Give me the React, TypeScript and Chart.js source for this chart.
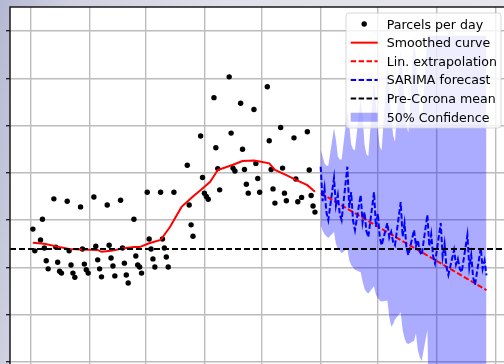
import React, { useEffect, useRef } from "react";
import { Chart, registerables } from "chart.js";

Chart.register(...registerables);

// x values: days since 1 Jan 2020 (weekdays only); y values: parcels per day (axis units)
const obsDays = [
  1, 2,
  5, 6, 7, 8, 9,
  12, 13, 14, 15, 16,
  19, 20, 21, 22, 23,
  26, 27, 28, 29, 30,
  33, 34, 35, 36, 37,
  40, 41, 42, 43, 44,
  47, 48, 49, 50, 51,
  54, 55, 56, 57, 58,
  61, 62, 63, 64, 65,
  68, 69, 70, 71, 72,
  75,
  82, 83, 84, 85,
  89, 90, 91, 92, 93,
  96, 97, 98, 99,
  104, 105, 106, 107,
  110, 111, 112, 113, 114,
  117, 118, 119, 120,
  124, 125, 126, 127, 128,
  131, 132, 133, 134,
  138, 139, 140, 142,
  145, 146, 147, 148, 149,
];
const parcels = [
  2.81, 2.35,
  2.58, 3.02, 2.41, 2.14, 1.97,
  3.45, 2.43, 2.11, 1.92, 1.88,
  3.40, 2.35, 2.05, 1.88, 1.79,
  3.28, 2.39, 2.07, 1.95, 1.88,
  3.49, 2.45, 2.16, 1.97, 1.80,
  3.32, 2.47, 2.20, 2.03, 1.82,
  3.42, 2.41, 2.09, 1.84, 1.67,
  3.02, 2.24, 2.05, 2.01, 1.88,
  3.59, 2.60, 2.39, 2.18, 2.01,
  3.59, 2.60, 2.41, 2.22, 2.01,
  3.59,
  4.16, 3.32, 2.90, 2.66,
  4.78, 3.90, 3.57, 3.50, 3.44,
  5.59, 4.53, 4.09, 3.64,
  6.03, 4.84, 4.10, 4.04,
  5.47, 4.50, 4.07, 3.76, 3.57,
  5.34, 4.20, 3.88, 3.59,
  5.82, 4.68, 4.07, 3.66, 3.36,
  4.96, 4.10, 3.57, 3.41,
  4.74, 3.87, 3.39, 3.48,
  4.87, 4.06, 3.52, 3.30, 3.17,
];

const smoothDays = [1, 7, 14, 20, 27, 35, 37, 42, 48, 54, 57, 62, 68, 73, 79, 85, 90, 94, 98, 103, 106, 111, 117, 120, 125, 128, 134, 139, 145, 149];
const smoothVals = [2.52, 2.50, 2.44, 2.39, 2.38, 2.37, 2.33, 2.35, 2.40, 2.43, 2.43, 2.51, 2.58, 2.86, 3.28, 3.50, 3.67, 3.81, 4.06, 4.13, 4.17, 4.25, 4.26, 4.24, 4.20, 4.06, 3.95, 3.85, 3.74, 3.60];

const linDays = [152, 239];
const linVals = [3.57, 1.52];

const fcDays = [
  152, 153, 154, 155, 156,
  159, 160, 161, 162, 163,
  166, 167, 168, 169, 170,
  173, 174, 175, 176, 177,
  180, 181, 182, 183, 184,
  187, 188, 189, 190, 191,
  194, 195, 196, 197, 198,
  201, 202, 203, 204, 205,
  208, 209, 210, 211, 212,
  215, 216, 217, 218, 219,
  222, 223, 224, 225, 226,
  229, 230, 231, 232, 233,
  236, 237, 238, 239,
];
const sarima = [
  4.13, 3.40, 3.68, 3.17, 3.00,
  3.89, 3.31, 3.53, 3.13, 3.00,
  4.13, 3.26, 3.59, 2.99, 2.79,
  3.53, 2.95, 3.17, 2.77, 2.64,
  3.59, 2.86, 3.14, 2.64, 2.47,
  2.94, 2.63, 2.75, 2.54, 2.47,
  3.38, 2.65, 2.93, 2.43, 2.26,
  2.79, 2.45, 2.58, 2.34, 2.26,
  3.11, 2.45, 2.70, 2.24, 2.09,
  2.94, 2.23, 2.50, 2.01, 1.84,
  2.37, 2.06, 2.18, 1.97, 1.90,
  2.68, 2.00, 2.26, 1.79, 1.63,
  2.41, 1.97, 2.14, 1.83,
];
const confUpper = [
  4.50, 4.35, 4.20, 4.15, 4.15,
  4.95, 4.70, 4.35, 4.28, 4.28,
  5.30, 5.00, 4.60, 4.50, 4.48,
  5.60, 5.20, 4.60, 4.40, 4.35,
  6.00, 5.50, 4.90, 4.55, 4.48,
  6.30, 5.80, 5.20, 4.80, 4.65,
  6.60, 6.10, 5.50, 5.00, 4.85,
  6.90, 6.40, 5.80, 5.20, 5.05,
  6.90, 6.90, 6.90, 6.90, 6.90,
  6.90, 6.90, 6.90, 6.90, 6.90,
  6.90, 6.90, 6.90, 6.90, 6.90,
  6.90, 6.90, 6.90, 6.90, 6.90,
  6.90, 6.90, 6.90, 6.90,
];
const confLower = [
  2.90, 2.78, 2.70, 2.66, 2.62,
  2.75, 2.50, 2.40, 2.35, 2.30,
  2.40, 2.15, 2.05, 2.00, 1.95,
  1.90, 1.70, 1.55, 1.48, 1.45,
  1.60, 1.42, 1.35, 1.30, 1.28,
  1.30, 0.95, 0.75, 0.80, 0.90,
  1.05, 0.68, 0.50, 0.40, 0.38,
  0.45, 0.60, 0.25, 0.10, 0.02,
  0.68, -1.5, -1.5, -1.5, -1.5,
  -1.5, -1.5, -1.5, -1.5, -1.5,
  -1.5, -1.5, -1.5, -1.5, -1.5,
  -1.5, -1.5, -1.5, -1.5, -1.5,
  -1.5, -1.5, -1.5, -1.5,
];

const preCoronaMean = 2.39;

// grid positions: first day of each month Jan..Sep 2020, and y grid values
const monthStarts = [0, 31, 60, 91, 121, 152, 182, 213, 244];
const yGrid = [0, 1, 2, 3, 4, 5, 6, 7];

const X_MIN = -11.02;
const X_MAX = 249.25;
const Y_MIN = -0.381;
const Y_MAX = 7.507;

const legendItems = [
  { label: "Parcels per day", kind: "dot", color: "#000000" },
  { label: "Smoothed curve", kind: "line", color: "#ff0000" },
  { label: "Lin. extrapolation", kind: "dash", color: "#ff0000" },
  { label: "SARIMA forecast", kind: "dash", color: "#0000ff" },
  { label: "Pre-Corona mean", kind: "dash", color: "#000000" },
  { label: "50% Confidence", kind: "patch", color: "rgba(0,0,255,0.33)" },
];

const DASH = [5.5, 2.4];
const BAND = "rgba(0,0,255,0.33)";

const pts = (xs: number[], ys: number[]) => xs.map((x, i) => ({ x, y: ys[i] }));

const bgPlugin = {
  id: "plotBg",
  beforeDraw(chart: any) {
    const { ctx, chartArea: a } = chart;
    ctx.save();
    ctx.fillStyle = "#ffffff";
    ctx.fillRect(a.left, a.top, a.right - a.left, a.bottom - a.top);
    ctx.restore();
  },
};

const spinePlugin = {
  id: "spines",
  afterDatasetsDraw(chart: any) {
    const { ctx, chartArea: a } = chart;
    ctx.save();
    ctx.strokeStyle = "#1a1a1a";
    ctx.lineWidth = 1.5;
    ctx.beginPath();
    ctx.moveTo(a.left, a.bottom);
    ctx.lineTo(a.left, a.top);
    ctx.lineTo(a.right, a.top);
    ctx.stroke();
    ctx.restore();
  },
};

const legendPlugin = {
  id: "boxLegend",
  afterDraw(chart: any) {
    const { ctx, chartArea: a } = chart;
    const w = 155;
    const h = 115;
    const x0 = a.right - 5 - w;
    const y0 = a.top + 6;
    const r = 3;
    ctx.save();
    ctx.beginPath();
    ctx.moveTo(x0 + r, y0);
    ctx.lineTo(x0 + w - r, y0);
    ctx.arcTo(x0 + w, y0, x0 + w, y0 + r, r);
    ctx.lineTo(x0 + w, y0 + h - r);
    ctx.arcTo(x0 + w, y0 + h, x0 + w - r, y0 + h, r);
    ctx.lineTo(x0 + r, y0 + h);
    ctx.arcTo(x0, y0 + h, x0, y0 + h - r, r);
    ctx.lineTo(x0, y0 + r);
    ctx.arcTo(x0, y0, x0 + r, y0, r);
    ctx.closePath();
    ctx.fillStyle = "rgba(255,255,255,0.8)";
    ctx.fill();
    ctx.strokeStyle = "rgba(204,204,204,0.8)";
    ctx.lineWidth = 1;
    ctx.stroke();

    const hx1 = x0 + 4.7;
    const hx2 = x0 + 31.7;
    ctx.font = "12.6px 'DejaVu Sans'";
    ctx.textAlign = "left";
    ctx.textBaseline = "alphabetic";
    legendItems.forEach((it, i) => {
      const cy = y0 + 11 + i * 18.65;
      ctx.save();
      if (it.kind === "dot") {
        ctx.fillStyle = it.color;
        ctx.beginPath();
        ctx.arc((hx1 + hx2) / 2, cy, 2.7, 0, Math.PI * 2);
        ctx.fill();
      } else if (it.kind === "line" || it.kind === "dash") {
        ctx.strokeStyle = it.color;
        ctx.lineWidth = 2;
        ctx.setLineDash(it.kind === "dash" ? DASH : []);
        ctx.beginPath();
        ctx.moveTo(hx1, cy);
        ctx.lineTo(hx2, cy);
        ctx.stroke();
      } else {
        ctx.fillStyle = it.color;
        ctx.fillRect(hx1, cy - 4.5, hx2 - hx1, 9);
      }
      ctx.restore();
      ctx.fillStyle = "#000000";
      ctx.fillText(it.label, x0 + 40.7, cy + 4.5);
    });
    ctx.restore();
  },
};

export default function App() {
  const ref = useRef<HTMLCanvasElement | null>(null);

  useEffect(() => {
    if (!ref.current) return;
    const chart = new Chart(ref.current, {
      type: "line",
      data: {
        datasets: [
          {
            label: "Pre-Corona mean",
            data: [
              { x: X_MIN, y: preCoronaMean },
              { x: X_MAX, y: preCoronaMean },
            ],
            borderColor: "#000000",
            borderWidth: 2,
            borderDash: [6, 3],
            pointRadius: 0,
            fill: false,
            order: 0,
          },
          {
            label: "SARIMA forecast",
            data: pts(fcDays, sarima),
            borderColor: "#0000ff",
            borderWidth: 2,
            borderDash: DASH,
            pointRadius: 0,
            fill: false,
            order: 1,
          },
          {
            label: "Lin. extrapolation",
            data: pts(linDays, linVals),
            borderColor: "#ff0000",
            borderWidth: 2,
            borderDash: DASH,
            pointRadius: 0,
            fill: false,
            order: 2,
          },
          {
            label: "Smoothed curve",
            data: pts(smoothDays, smoothVals),
            borderColor: "#ff0000",
            borderWidth: 2,
            pointRadius: 0,
            fill: false,
            order: 3,
          },
          {
            label: "Parcels per day",
            data: pts(obsDays, parcels),
            showLine: false,
            pointRadius: 2.7,
            pointBackgroundColor: "#000000",
            pointBorderWidth: 0,
            borderColor: "#000000",
            fill: false,
            order: 4,
          },
          {
            label: "50% Confidence",
            data: pts(fcDays, confUpper),
            borderWidth: 0,
            borderColor: "rgba(0,0,0,0)",
            backgroundColor: BAND,
            pointRadius: 0,
            fill: "+1",
            order: 5,
          },
          {
            label: "lower",
            data: pts(fcDays, confLower),
            borderWidth: 0,
            borderColor: "rgba(0,0,0,0)",
            pointRadius: 0,
            fill: false,
            order: 6,
          },
        ],
      },
      options: {
        animation: false,
        responsive: false,
        maintainAspectRatio: false,
        events: [],
        layout: { autoPadding: false, padding: { left: 0, top: 7, right: 6, bottom: 0 } },
        plugins: {
          legend: { display: false },
          tooltip: { enabled: false },
          filler: { propagate: false },
        },
        scales: {
          x: {
            type: "linear",
            min: X_MIN,
            max: X_MAX,
            afterBuildTicks: (s: any) => {
              s.ticks = monthStarts.map((v) => ({ value: v }));
            },
            afterFit: (s: any) => {
              s.height = 0;
            },
            ticks: { display: false },
            border: { display: false },
            grid: { color: "#bcbcbc", lineWidth: 1.4, drawTicks: false },
          },
          y: {
            type: "linear",
            min: Y_MIN,
            max: Y_MAX,
            afterBuildTicks: (s: any) => {
              s.ticks = yGrid.map((v) => ({ value: v }));
            },
            afterFit: (s: any) => {
              s.width = 10;
            },
            ticks: { display: false },
            border: { display: false },
            grid: {
              color: "#bcbcbc",
              lineWidth: 1.4,
              drawTicks: true,
              tickLength: 4,
              tickColor: "#1a1a1a",
              tickWidth: 1.3,
            },
          },
        },
      },
      plugins: [bgPlugin, spinePlugin, legendPlugin],
    } as any);
    return () => chart.destroy();
  }, []);

  return (
    <div
      style={{
        position: "absolute",
        left: 0,
        top: 0,
        width: 504,
        height: 364,
        overflow: "hidden",
        background:
          "linear-gradient(100deg, #b5b8d2 0%, #cfd1e1 12%, #e0e0e8 40%, #e8e8ed 100%)",
      }}
    >
      <canvas
        ref={ref}
        width={512}
        height={380}
        style={{ display: "block", width: 512, height: 380 }}
      />
    </div>
  );
}
